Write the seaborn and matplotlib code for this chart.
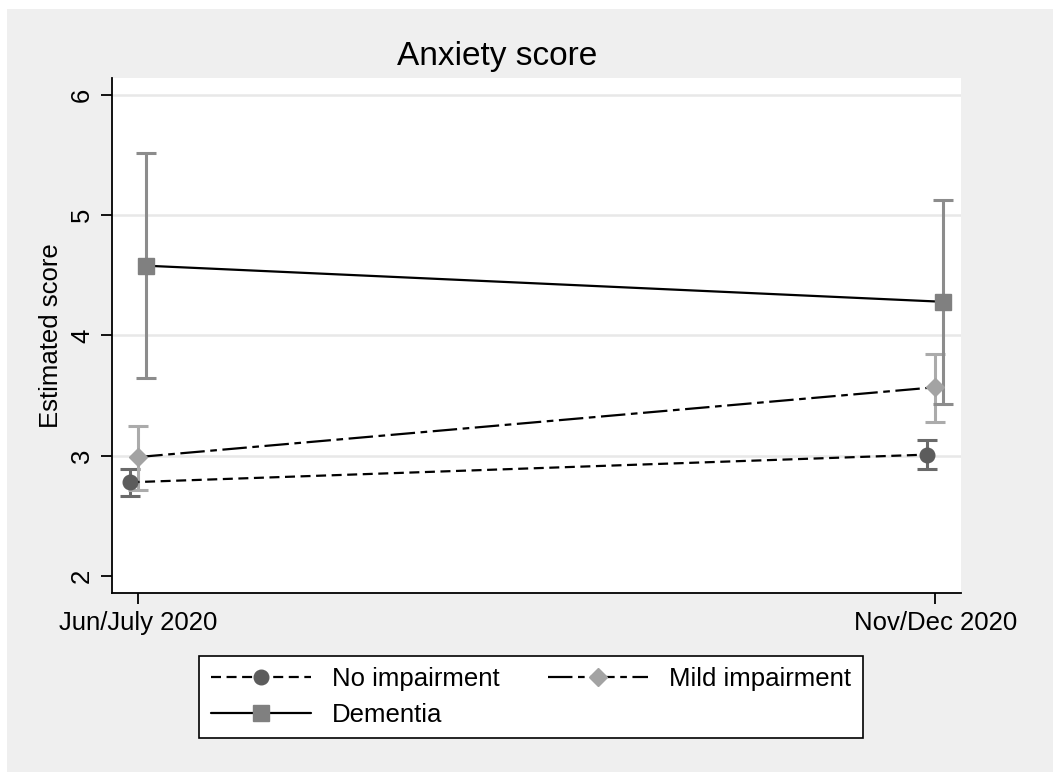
import matplotlib.pyplot as plt
from matplotlib.patches import Rectangle
from matplotlib.lines import Line2D
import seaborn as sns
import pandas as pd

# data
waves = ['Jun/July 2020', 'Nov/Dec 2020']
groups = ['No impairment', 'Mild impairment', 'Dementia']

no_imp = [2.78, 3.01]
no_imp_lo = [2.67, 2.89]
no_imp_hi = [2.89, 3.13]

mild = [2.99, 3.57]
mild_lo = [2.72, 3.28]
mild_hi = [3.25, 3.85]

dem = [4.58, 4.28]
dem_lo = [3.65, 3.43]
dem_hi = [5.52, 5.13]

sns.set_theme(style='white')
plt.rcParams['font.family'] = ['Liberation Sans', 'DejaVu Sans']
plt.rcParams['text.color'] = 'black'
plt.rcParams['axes.labelcolor'] = 'black'
plt.rcParams['xtick.color'] = 'black'
plt.rcParams['ytick.color'] = 'black'

fig = plt.figure(figsize=(10.53, 7.72), dpi=100, facecolor='white')
fig.patches.append(Rectangle((7/1053, 0), 1 - 7/1053, 1 - 9/772,
                             transform=fig.transFigure, facecolor='#efefef',
                             edgecolor='none', zorder=-10))
ax = fig.add_axes([112/1053, 1 - 593/772, (961 - 112)/1053, (593 - 78)/772])
ax.set_facecolor('white')

# small dodge so the bars don't sit on top of each other
offsets = [-0.011, 0.0, 0.01]
means = [no_imp, mild, dem]
los = [no_imp_lo, mild_lo, dem_lo]
his = [no_imp_hi, mild_hi, dem_hi]

rows = []
for g, off, m, lo, hi in zip(groups, offsets, means, los, his):
    for i in range(len(waves)):
        rows.append({'group': g, 'x': i + off, 'score': m[i], 'lo': lo[i], 'hi': hi[i]})
df = pd.DataFrame(rows)

marker_col = {'No impairment': '#5c5c5c', 'Mild impairment': '#a3a3a3', 'Dementia': '#808080'}
bar_col = {'No impairment': '#6a6a6a', 'Mild impairment': '#ababab', 'Dementia': '#8c8c8c'}
markers = {'No impairment': 'o', 'Mild impairment': 'D', 'Dementia': 's'}
msize = {'No impairment': 10.5, 'Mild impairment': 9, 'Dementia': 11}
dashes = {'No impairment': (4.5, 2.5), 'Mild impairment': (11, 2.5, 3, 2.5), 'Dementia': ''}

for g in groups:
    sub = df[df['group'] == g]
    ax.errorbar(sub['x'], sub['score'],
                yerr=[sub['score'] - sub['lo'], sub['hi'] - sub['score']],
                fmt='none', ecolor=bar_col[g], elinewidth=2.2, capsize=7,
                capthick=2.2, zorder=2)

for g in groups:
    sub = df[df['group'] == g]
    sns.lineplot(data=sub, x='x', y='score', ax=ax, color='black', linewidth=1.6,
                 zorder=3, legend=False,
                 linestyle='-' if dashes[g] == '' else (0, dashes[g]))
    ax.plot(sub['x'], sub['score'], linestyle='none', marker=markers[g],
            markersize=msize[g], markerfacecolor=marker_col[g],
            markeredgecolor=marker_col[g], zorder=4)

ax.set_xlim(-0.033, 1.032)
ax.set_ylim(1.86, 6.14)
ax.set_xticks(range(len(waves)))
ax.set_xticklabels(waves, fontsize=18.5)
ax.set_yticks([2, 3, 4, 5, 6])
ax.set_yticklabels(['2', '3', '4', '5', '6'], fontsize=18.5, rotation=90, va='center')
ax.set_xlabel('')
ax.set_ylabel('Estimated score', fontsize=18.5, labelpad=5)
ax.set_title('Anxiety score', fontsize=24, pad=9, x=0.4535)

for y in [3, 4, 5, 6]:
    ax.axhline(y, color='#e8e8e8', linewidth=1.8, zorder=1)

for s in ['top', 'right']:
    ax.spines[s].set_visible(False)
for s in ['left', 'bottom']:
    ax.spines[s].set_color('black')
    ax.spines[s].set_linewidth(1.3)
ax.tick_params(axis='both', direction='out', length=8, width=1.3, color='black',
               left=True, bottom=True, pad=5)

# legend: matplotlib fills columns first, so order to get row-wise layout
handles = {}
for g in groups:
    ls = '-' if dashes[g] == '' else (0, dashes[g])
    handles[g] = Line2D([], [], color='black', linewidth=1.6, linestyle=ls,
                        marker=markers[g], markersize=msize[g],
                        markerfacecolor=marker_col[g], markeredgecolor=marker_col[g])
leg_order = ['No impairment', 'Dementia', 'Mild impairment']
leg = fig.legend([handles[g] for g in leg_order], leg_order, loc='center', ncol=2,
                 bbox_to_anchor=(531/1053, 1 - 697/772),
                 fontsize=18.5, frameon=True, fancybox=False, edgecolor='black',
                 framealpha=1, handlelength=3.9, columnspacing=1.9,
                 handletextpad=0.8, borderpad=0.45, labelspacing=0.45,
                 borderaxespad=0)
leg.get_frame().set_linewidth(1.2)

fig.savefig('out.png', dpi=100, facecolor=fig.get_facecolor())
